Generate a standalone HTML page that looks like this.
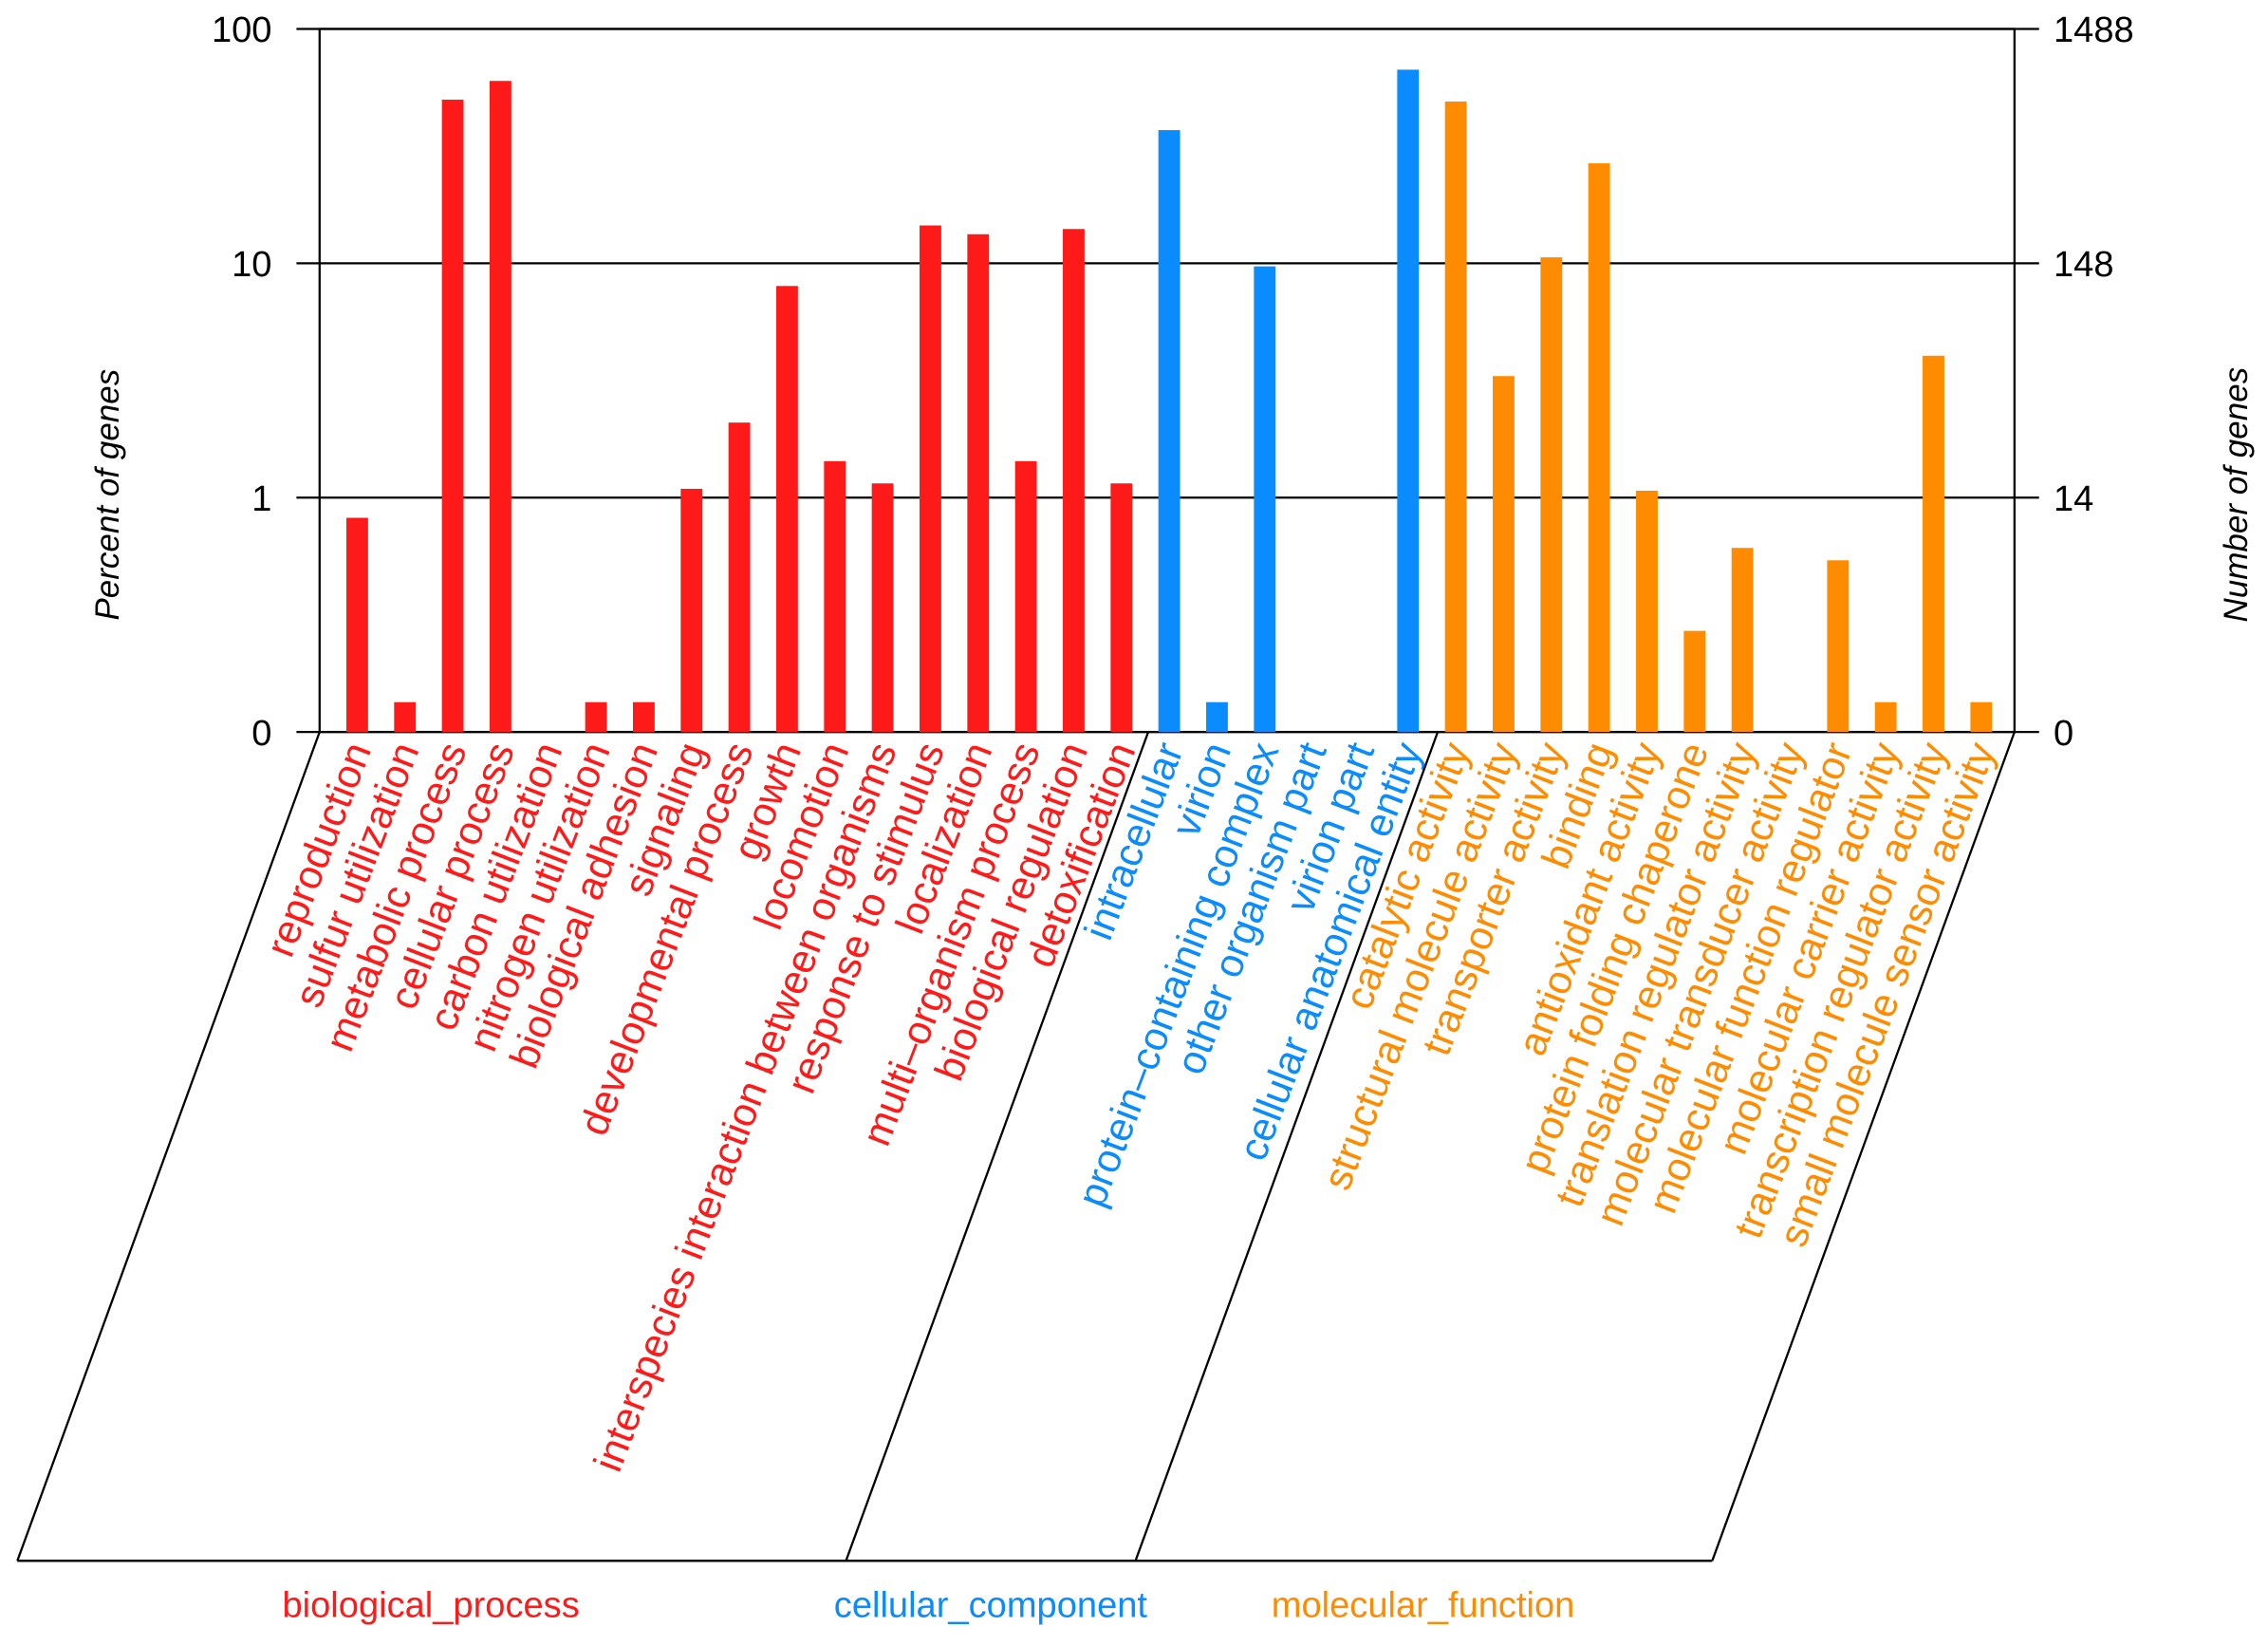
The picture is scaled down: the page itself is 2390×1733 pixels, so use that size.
<!DOCTYPE html>
<html><head><meta charset="utf-8"><style>html,body{margin:0;padding:0;background:#fff}svg{display:block}</style></head>
<body>
<svg id="chart" width="2390" height="1733" viewBox="0 0 1568.3 1137.2" preserveAspectRatio="none" xmlns="http://www.w3.org/2000/svg" font-family="Liberation Sans, sans-serif">
</svg>
<script>
const categories = ["reproduction","sulfur utilization","metabolic process","cellular process","carbon utilization","nitrogen utilization","biological adhesion","signaling","developmental process","growth","locomotion","interspecies interaction between organisms","response to stimulus","localization","multi\u2013organism process","biological regulation","detoxification","intracellular","virion","protein\u2013containing complex","other organism part","virion part","cellular anatomical entity","catalytic activity","structural molecule activity","transporter activity","binding","antioxidant activity","protein folding chaperone","translation regulator activity","molecular transducer activity","molecular function regulator","molecular carrier activity","transcription regulator activity","small molecule sensor activity"];
const groups = [0,0,0,0,0,0,0,0,0,0,0,0,0,0,0,0,0,1,1,1,1,1,1,2,2,2,2,2,2,2,2,2,2,2,2];
const percents = [0.82,0.134,49.9,60,0,0.134,0.134,1.09,2.09,8.0,1.43,1.15,14.5,13.3,1.43,14.0,1.15,37,0.134,9.7,0,0,67,49,3.3,10.6,26.7,1.07,0.27,0.61,0,0.54,0.134,4.03,0.134];
const groupNames = ["biological_process","cellular_component","molecular_function"];
const leftTicks = ["0","1","10","100"];
const rightTicks = ["0","14","148","1488"];
const colors = ["#ff1a1a","#0a8cff","#ff8c00"];

const svg = document.getElementById('chart');
const NS = "http://www.w3.org/2000/svg";
const L=221,R=1393,T=20,B=506,DEC=162;
const x0=247, step=33.03;
function xPos(i){return x0+i*step;}
function yPos(v){ if(v<=0) return B; return Math.min(B, (B-DEC) - DEC*Math.log10(v)); }
function el(tag, attrs, parent){const e=document.createElementNS(NS,tag);for(const k in attrs)e.setAttribute(k,attrs[k]);(parent||svg).appendChild(e);return e;}

const frame = el('rect',{x:L,y:T,width:R-L,height:B-T,fill:'none',stroke:'#000','stroke-width':1.5});


leftTicks.forEach((t,k)=>{
  const y=B-k*DEC;
  const g=el('line',{x1:205,x2:R+17,y1:y,y2:y,stroke:'#000','stroke-width':1.5});
  
  
  const lt=el('text',{x:188,y:y+9,'text-anchor':'end','font-size':25});
  lt.textContent=t;
  
  
  const rt=el('text',{x:1420,y:y+9,'text-anchor':'start','font-size':25});
  rt.textContent=rightTicks[k];
  
  
});
percents.forEach((v,i)=>{
  if(v>0){
    const y=yPos(v);
    const b=el('rect',{x:xPos(i)-7.5,y:y,width:15,height:B-y,fill:colors[groups[i]]});
    
    
  }
  const tx=xPos(i)+10, ty=518;
  const t=el('text',{x:tx,y:ty,'text-anchor':'end','font-size':28,fill:colors[groups[i]],transform:`rotate(-69 ${tx} ${ty})`});
  t.textContent=categories[i];
  
  
});
const dx=-209, by=1079;
const splits=[L, (xPos(16)+xPos(17))/2+2, (xPos(22)+xPos(23))/2+4, R];
splits.forEach(sx=>{
  const s=el('line',{x1:sx,y1:B,x2:sx+dx,y2:by,stroke:'#000','stroke-width':1.5});
  
  
});
const bl=el('line',{x1:L+dx,y1:by,x2:R+dx,y2:by,stroke:'#000','stroke-width':1.5});


const gx=[298,685,984];
groupNames.forEach((n,k)=>{
  const t=el('text',{x:gx[k],y:1118,'text-anchor':'middle','font-size':25,fill:colors[k]});
  t.textContent=n;
  
  
});
const yl=el('text',{x:82,y:342,'text-anchor':'middle','font-size':23,'font-style':'italic',transform:'rotate(-90 82 342)'});
yl.textContent='Percent of genes';


const yr=el('text',{x:1554,y:342,'text-anchor':'middle','font-size':23,'font-style':'italic',transform:'rotate(-90 1554 342)'});
yr.textContent='Number of genes';


</script>
</body></html>
